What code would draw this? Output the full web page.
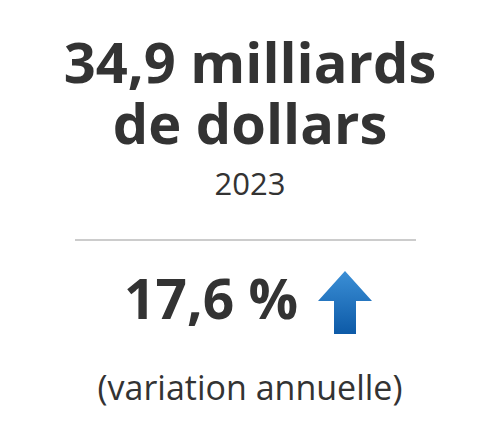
<!DOCTYPE html>
<html><head><meta charset="utf-8">
<script src="https://cdn.jsdelivr.net/npm/chart.js@4"></script>
<style>
html,body{margin:0;padding:0;background:#fff;}
body{width:500px;height:447px;font-family:"Open Sans",sans-serif;color:#333;position:relative;overflow:hidden;}
.t{position:absolute;left:0;width:500px;text-align:center;white-space:nowrap;line-height:1;}
#head1{top:33px;font-size:56px;font-weight:700;}
#head2{top:94px;font-size:56px;font-weight:700;}
#year{top:168px;font-size:31px;}
#rule{position:absolute;left:75px;top:239px;width:341px;height:2px;background:#ccc;}
#pct{top:270px;font-size:55px;font-weight:700;left:-39px;}
#arrow{position:absolute;left:318px;top:271px;}
#label{top:370px;font-size:34px;}
</style></head>
<body>
<div class="t" id="head1">34,9 milliards</div>
<div class="t" id="head2">de dollars</div>
<div class="t" id="year">2023</div>
<div id="rule"></div>
<div class="t" id="pct">17,6 %</div>
<svg id="arrow" width="54" height="64" viewBox="0 0 54 64">
<defs><linearGradient id="g" x1="0" y1="0" x2="0" y2="1">
<stop offset="0" stop-color="#3b8fd6"/><stop offset="1" stop-color="#0d5aa7"/></linearGradient></defs>
<polygon points="27,0 54,30 38,30 38,63 16,63 16,30 0,30" fill="url(#g)"/>
</svg>
<div class="t" id="label">(variation annuelle)</div>
<script>
// infographic only: value, year and change shown as text
const headline = '34,9 milliards de dollars';
const year = '2023';
const change = '17,6 %';
</script>
</body></html>
